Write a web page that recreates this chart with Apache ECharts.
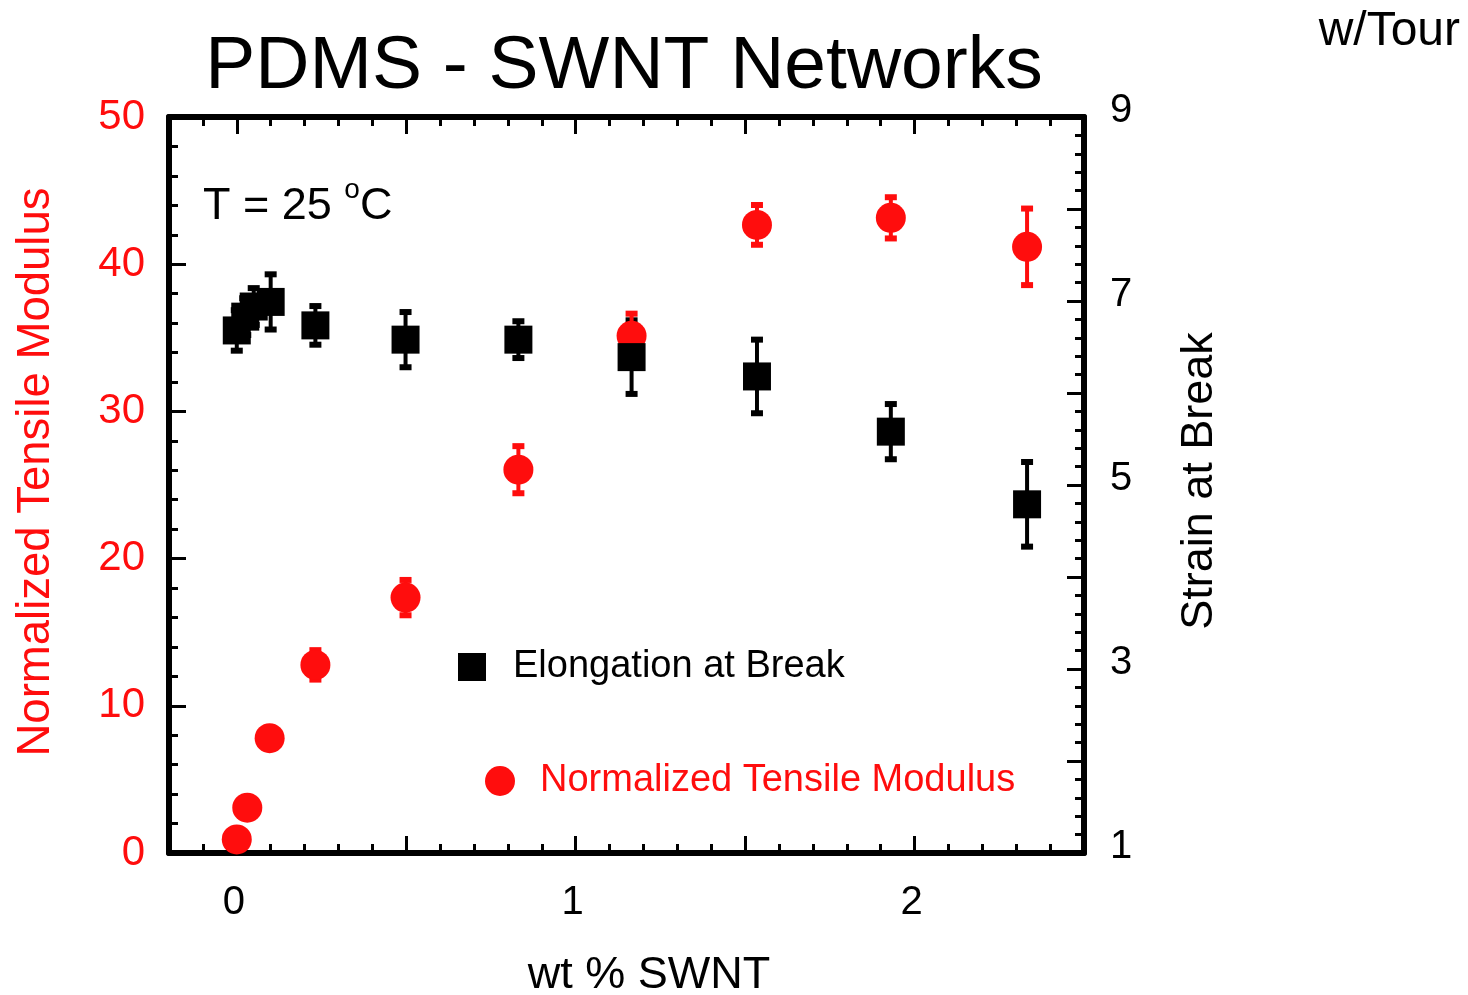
<!DOCTYPE html>
<html>
<head>
<meta charset="utf-8">
<script src="https://cdn.jsdelivr.net/npm/echarts@6/dist/echarts.min.js"></script>
<style>
html,body{margin:0;padding:0;background:#fff;}
#chart{width:1468px;height:995px;}
</style>
</head>
<body>
<div id="chart"></div>
<script>
// ---- data ----
const modulusX   = [0, 0.031, 0.097, 0.232, 0.498, 0.831, 1.165, 1.535, 1.930, 2.332];
const modulusY   = [0.92, 3.08, 7.80, 12.78, 17.35, 26.04, 35.14, 42.67, 43.15, 41.18];
const modulusErr = [0.5, 0.5, 0.5, 1.0, 1.2, 1.6, 1.5, 1.35, 1.4, 2.6];

const strainX    = [0, 0.025, 0.05, 0.1, 0.232, 0.498, 0.831, 1.165, 1.535, 1.930, 2.332];
const strainY    = [6.68, 6.83, 6.94, 6.99, 6.735, 6.58, 6.58, 6.39, 6.18, 5.58, 4.79];
const strainErr  = [0.22, 0.2, 0.2, 0.3, 0.21, 0.3, 0.2, 0.4, 0.4, 0.3, 0.46];

const xLabelValues  = [0, 1, 2];
const xMajorTicks   = [0, 0.5, 1, 1.5, 2];
const xMinorTicks   = [-0.1, 0.1, 0.2, 0.3, 0.4, 0.6, 0.7, 0.8, 0.9, 1.1, 1.2, 1.3, 1.4,
                       1.6, 1.7, 1.8, 1.9, 2.1, 2.2, 2.3, 2.4];
const rightLabelValues = [1, 3, 5, 7, 9];

const titleText   = 'PDMS - SWNT Networks';
const modulusName = 'Normalized Tensile Modulus';
const strainName  = 'Elongation at Break';
const xName       = 'wt % SWNT';
const leftName    = 'Normalized Tensile Modulus';
const rightName   = 'Strain at Break';

// ---- styles ----
const RED = '#ff0d0d';
const FONT = '"Liberation Sans", Arial, Helvetica, sans-serif';

const modulusData = modulusX.map((x, i) => [x, modulusY[i], modulusErr[i]]);
const strainData  = strainX.map((x, i) => [x, strainY[i], strainErr[i]]);

function errorBar(color) {
  return function (params, api) {
    const x = api.value(0), y = api.value(1), e = api.value(2);
    const hi = api.coord([x, y + e]);
    const lo = api.coord([x, y - e]);
    const cw = 12, ch = 6;
    return {
      type: 'group',
      children: [
        { type: 'line', shape: { x1: hi[0], y1: hi[1], x2: lo[0], y2: lo[1] },
          style: { stroke: color, lineWidth: 4 } },
        { type: 'rect', shape: { x: hi[0] - cw / 2, y: hi[1] - ch / 2, width: cw, height: ch },
          style: { fill: color } },
        { type: 'rect', shape: { x: lo[0] - cw / 2, y: lo[1] - ch / 2, width: cw, height: ch },
          style: { fill: color } }
      ]
    };
  };
}

const axisLineStyle = { show: true, onZero: false, lineStyle: { color: '#000', width: 6 } };
const noLine = { show: false, onZero: false };
const majorTick = { show: true, inside: true, length: 17, lineStyle: { color: '#000', width: 3 } };
const minorTickStyle = { show: true, inside: true, length: 9, lineStyle: { color: '#000', width: 3 } };

const chart = echarts.init(document.getElementById('chart'), null, { renderer: 'canvas' });

const option = {
  backgroundColor: '#fff',
  animation: false,
  textStyle: { fontFamily: FONT },
  title: {
    text: titleText,
    left: 624, top: 30, textAlign: 'center', padding: 0,
    textStyle: { fontFamily: FONT, fontSize: 75, fontWeight: 'normal', color: '#000' }
  },
  grid: { left: 169, right: 384, top: 117, bottom: 142, containLabel: false, outerBoundsMode: 'none' },
  legend: [
    {
      data: [strainName], left: 458, top: 648, orient: 'vertical', padding: 0,
      icon: 'rect', itemWidth: 28, itemHeight: 28, selectedMode: false,
      textStyle: { fontFamily: FONT, fontSize: 38, color: '#000', padding: [0, 0, 0, 22] }
    },
    {
      data: [modulusName], left: 485, top: 762, orient: 'vertical', padding: 0,
      icon: 'circle', itemWidth: 30, itemHeight: 30, selectedMode: false,
      textStyle: { fontFamily: FONT, fontSize: 38, color: RED, padding: [0, 0, 0, 20] }
    }
  ],
  xAxis: [
    {
      type: 'value', position: 'bottom', min: -0.2, max: 2.5,
      axisLine: axisLineStyle,
      axisTick: Object.assign({}, majorTick, { customValues: xMajorTicks }),
      axisLabel: { show: true, customValues: xLabelValues, margin: 30, padding: [0, 6, 0, 0],
                   fontFamily: FONT, fontSize: 40, color: '#000' },
      splitLine: { show: false },
      name: xName, nameLocation: 'middle', nameGap: 100,
      nameTextStyle: { fontFamily: FONT, fontSize: 45, color: '#000', padding: [0, 0, 0, 45] }
    },
    {
      type: 'value', position: 'bottom', min: -0.2, max: 2.5,
      axisLine: noLine,
      axisTick: Object.assign({}, minorTickStyle, { customValues: xMinorTicks }),
      axisLabel: { show: false }, splitLine: { show: false }
    },
    {
      type: 'value', position: 'top', min: -0.2, max: 2.5,
      axisLine: axisLineStyle,
      axisTick: Object.assign({}, majorTick, { customValues: xMajorTicks }),
      axisLabel: { show: false }, splitLine: { show: false }
    },
    {
      type: 'value', position: 'top', min: -0.2, max: 2.5,
      axisLine: noLine,
      axisTick: Object.assign({}, minorTickStyle, { customValues: xMinorTicks }),
      axisLabel: { show: false }, splitLine: { show: false }
    }
  ],
  yAxis: [
    {
      type: 'value', position: 'left', min: 0, max: 50, interval: 10,
      axisLine: axisLineStyle,
      axisTick: majorTick,
      minorTick: { show: true, splitNumber: 5, length: 9, lineStyle: { color: '#000', width: 3 } },
      axisLabel: { margin: 24, fontFamily: FONT, fontSize: 42, color: RED },
      splitLine: { show: false }, minorSplitLine: { show: false },
      name: leftName, nameLocation: 'middle', nameGap: 110, nameRotate: 90,
      nameTextStyle: { fontFamily: FONT, fontSize: 45.5, color: RED, padding: [0, 0, 0, 26] }
    },
    {
      type: 'value', position: 'right', min: 1, max: 9, interval: 1,
      axisLine: axisLineStyle,
      axisTick: majorTick,
      minorTick: { show: true, splitNumber: 5, length: 9, lineStyle: { color: '#000', width: 3 } },
      axisLabel: {
        margin: 26, fontFamily: FONT, fontSize: 40, color: '#000',
        formatter: v => (rightLabelValues.indexOf(v) >= 0 ? '{a|' + v + '}' : ''),
        rich: { a: { fontFamily: FONT, fontSize: 40, color: '#000', padding: [0, 0, 12, 0] } }
      },
      splitLine: { show: false }, minorSplitLine: { show: false },
      name: rightName, nameLocation: 'middle', nameGap: 93, nameRotate: 90,
      nameTextStyle: { fontFamily: FONT, fontSize: 45, color: '#000', padding: [0, 0, 0, 8] }
    }
  ],
  graphic: [
    {
      type: 'text', left: 203, top: 176, z: 10,
      style: {
        text: '{a|T = 25 }{s|o}{a|C}',
        rich: {
          a: { fontFamily: FONT, fontSize: 45, fill: '#000', color: '#000' },
          s: { fontFamily: FONT, fontSize: 28, fill: '#000', color: '#000', padding: [0, 0, 34, 0] }
        }
      }
    },
    {
      type: 'text', right: 8, top: 8, z: 10,
      style: { text: 'w/Tour', fontFamily: FONT, fontSize: 48, fill: '#000' }
    }
  ],
  series: [
    {
      name: 'strainErr', type: 'custom', xAxisIndex: 0, yAxisIndex: 1, z: 1,
      renderItem: errorBar('#000'), data: strainData, encode: { x: 0, y: 1 }, silent: true
    },
    {
      name: 'modulusErr', type: 'custom', xAxisIndex: 0, yAxisIndex: 0, z: 2,
      renderItem: errorBar(RED), data: modulusData, encode: { x: 0, y: 1 }, silent: true
    },
    {
      name: modulusName, type: 'scatter', xAxisIndex: 0, yAxisIndex: 0, z: 3,
      symbol: 'circle', symbolSize: 30, itemStyle: { color: RED, opacity: 1 },
      data: modulusData.map(d => [d[0], d[1]])
    },
    {
      name: strainName, type: 'scatter', xAxisIndex: 0, yAxisIndex: 1, z: 4,
      symbol: 'rect', symbolSize: 28, itemStyle: { color: '#000', opacity: 1 },
      data: strainData.map(d => [d[0], d[1]])
    }
  ]
};
chart.setOption(option);
</script>
</body>
</html>
